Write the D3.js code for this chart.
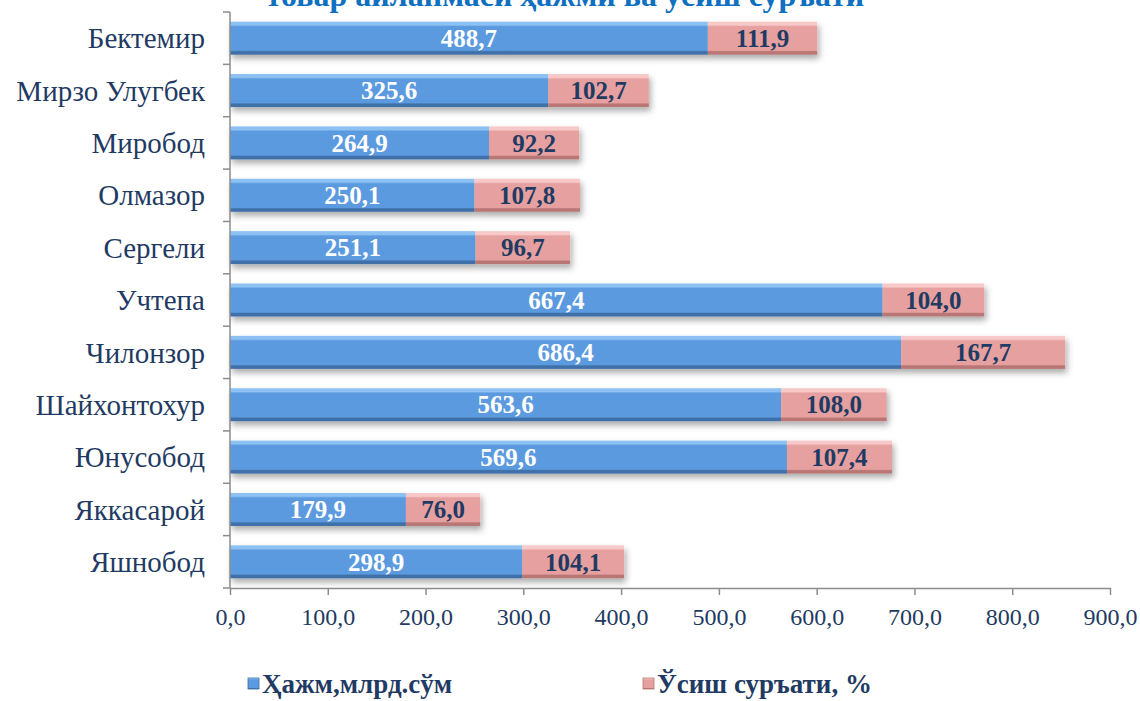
<!DOCTYPE html>
<html lang="uz">
<head>
<meta charset="UTF-8">
<title>Товар айланмаси</title>
<script src="https://d3js.org/d3.v7.min.js"></script>
<style>
    body { margin: 0; background: #fff; }
    svg { display: block; }
</style>
</head>
<body>
<script>
    // districts, top to bottom
    var districts = ["Бектемир", "Мирзо Улугбек", "Миробод", "Олмазор", "Сергели", "Учтепа",
        "Чилонзор", "Шайхонтохур", "Юнусобод", "Яккасарой", "Яшнобод "];
    var volume = [488.7, 325.6, 264.9, 250.1, 251.1, 667.4, 686.4, 563.6, 569.6, 179.9, 298.9];
    var growth = [111.9, 102.7, 92.2, 107.8, 96.7, 104.0, 167.7, 108.0, 107.4, 76.0, 104.1];
    var xTicks = [0, 100, 200, 300, 400, 500, 600, 700, 800, 900];
    var seriesNames = ["Ҳажм,млрд.сўм", "Ўсиш суръати, %"];
    var title = "товар айланмаси ҳажми ва ўсиш суръати";

    var W = 1140, H = 701;
    var margin = { top: 12, right: 30, bottom: 113, left: 230 };
    var width = W - margin.left - margin.right,
        height = H - margin.top - margin.bottom;

    var navy = "#1f3b63";
    var serif = "'Liberation Serif', 'Times New Roman', serif";
    var fmt = function (v) { return d3.format(".1f")(v).replace(".", ","); };

    var svg = d3.select("body").append("svg")
        .attr("width", W).attr("height", H);

    var defs = svg.append("defs");
    var shadow = defs.append("filter").attr("id", "shadow")
        .attr("x", "-5%").attr("y", "-30%").attr("width", "110%").attr("height", "180%");
    shadow.append("feDropShadow")
        .attr("dx", 2).attr("dy", 4).attr("stdDeviation", 3)
        .attr("flood-color", "#000").attr("flood-opacity", 0.33);

    function bevel(id, light, mid, dark) {
        var g = defs.append("linearGradient").attr("id", id)
            .attr("x1", 0).attr("y1", 0).attr("x2", 0).attr("y2", 1);
        g.append("stop").attr("offset", "0%").attr("stop-color", light);
        g.append("stop").attr("offset", "10%").attr("stop-color", light);
        g.append("stop").attr("offset", "15%").attr("stop-color", mid);
        g.append("stop").attr("offset", "87%").attr("stop-color", mid);
        g.append("stop").attr("offset", "91%").attr("stop-color", dark);
        g.append("stop").attr("offset", "100%").attr("stop-color", dark);
    }
    bevel("gBlue", "#8cc1f2", "#5b9ae0", "#3f6fa8");
    bevel("gPink", "#f7c9c8", "#e6a09f", "#b87674");

    var g = svg.append("g")
        .attr("transform", "translate(" + margin.left + "," + margin.top + ")");

    var x = d3.scaleLinear().domain([0, 900]).range([0, width]);
    var y = d3.scaleBand().domain(districts).range([0, height]).paddingInner(0.37).paddingOuter(0.185);

    var rows = districts.map(function (d, i) {
        return { name: d, volume: volume[i], growth: growth[i] };
    });

    // title (cut off at the top in the original)
    svg.append("text")
        .attr("x", 565).attr("y", 6)
        .attr("text-anchor", "middle")
        .attr("font-family", serif).attr("font-weight", "bold")
        .attr("font-size", 32).attr("fill", "#0f6fc0")
        .text(title);

    // bars
    var row = g.selectAll(".row").data(rows).enter().append("g")
        .attr("class", "row")
        .attr("filter", "url(#shadow)");

    row.append("rect")
        .attr("x", x(0))
        .attr("y", function (d) { return y(d.name); })
        .attr("width", function (d) { return x(d.volume) - x(0); })
        .attr("height", y.bandwidth())
        .attr("fill", "url(#gBlue)");

    row.append("rect")
        .attr("x", function (d) { return x(d.volume); })
        .attr("y", function (d) { return y(d.name); })
        .attr("width", function (d) { return x(d.volume + d.growth) - x(d.volume); })
        .attr("height", y.bandwidth())
        .attr("fill", "url(#gPink)");

    // value labels
    g.selectAll(".lblV").data(rows).enter().append("text")
        .attr("x", function (d) { return x(d.volume / 2); })
        .attr("y", function (d) { return y(d.name) + y.bandwidth() / 2; })
        .attr("dy", "0.35em")
        .attr("text-anchor", "middle")
        .attr("font-family", serif).attr("font-weight", "bold")
        .attr("font-size", 25).attr("fill", "#fff")
        .text(function (d) { return fmt(d.volume); });

    g.selectAll(".lblG").data(rows).enter().append("text")
        .attr("x", function (d) { return x(d.volume + d.growth / 2); })
        .attr("y", function (d) { return y(d.name) + y.bandwidth() / 2; })
        .attr("dy", "0.35em")
        .attr("text-anchor", "middle")
        .attr("font-family", serif).attr("font-weight", "bold")
        .attr("font-size", 25).attr("fill", navy)
        .text(function (d) { return fmt(d.growth); });

    // X axis
    var xAxis = g.append("g")
        .attr("transform", "translate(0," + height + ")")
        .call(d3.axisBottom(x).tickValues(xTicks).tickFormat(fmt).tickSize(7).tickSizeOuter(0).tickPadding(13));
    xAxis.select(".domain").attr("stroke", "#8c8c8c").attr("stroke-width", 1.5);
    xAxis.selectAll(".tick line").attr("stroke", "#8c8c8c").attr("stroke-width", 1.5);
    xAxis.selectAll("text")
        .attr("font-family", serif).attr("font-size", 24).attr("fill", navy);

    // Y axis: ticks at band boundaries
    var yAxisG = g.append("g");
    yAxisG.append("line")
        .attr("x1", 0).attr("x2", 0).attr("y1", 0).attr("y2", height)
        .attr("stroke", "#8c8c8c").attr("stroke-width", 1.5);
    var step = y.step();
    yAxisG.selectAll(".yt").data(d3.range(districts.length + 1)).enter().append("line")
        .attr("x1", -7).attr("x2", 0)
        .attr("y1", function (i) { return y(districts[0]) - y.paddingOuter() * step + i * step; })
        .attr("y2", function (i) { return y(districts[0]) - y.paddingOuter() * step + i * step; })
        .attr("stroke", "#8c8c8c").attr("stroke-width", 1.5);

    g.selectAll(".cat").data(districts).enter().append("text")
        .attr("x", -25)
        .attr("y", function (d) { return y(d) + y.bandwidth() / 2; })
        .attr("dy", "0.35em")
        .attr("text-anchor", "end")
        .attr("font-family", serif).attr("font-size", 29).attr("fill", navy)
        .text(function (d) { return d; });

    // legend
    var legendX = [248, 643];
    var legend = svg.selectAll(".leg").data(seriesNames).enter().append("g")
        .attr("transform", function (d, i) { return "translate(" + legendX[i] + ",678)"; });
    legend.append("rect")
        .attr("width", 11).attr("height", 11)
        .attr("fill", function (d, i) { return i === 0 ? "url(#gBlue)" : "url(#gPink)"; })
        .attr("stroke", function (d, i) { return i === 0 ? "#3f6fa8" : "#b87674"; })
        .attr("stroke-width", 0.8);
    legend.append("text")
        .attr("x", 14).attr("y", 6).attr("dy", "0.35em")
        .attr("font-family", serif).attr("font-weight", "bold")
        .attr("font-size", 27).attr("fill", navy)
        .text(function (d) { return d; });
</script>
</body>
</html>
